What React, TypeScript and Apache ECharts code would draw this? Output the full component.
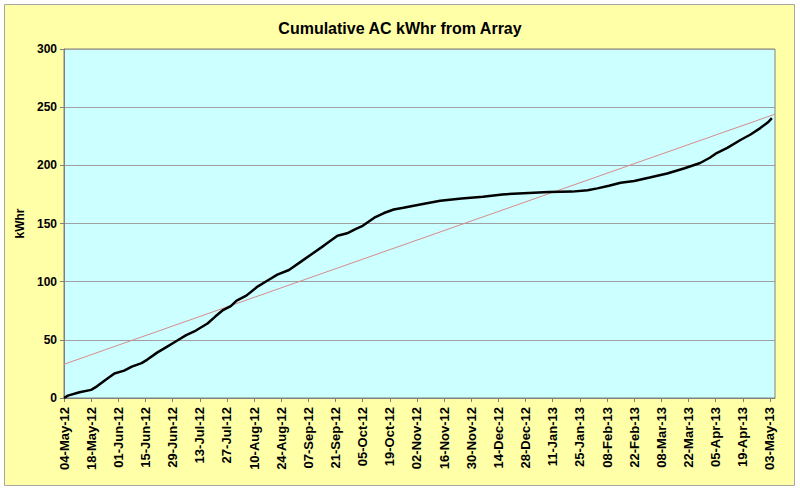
import { useEffect, useRef } from "react";
import * as echarts from "echarts";

// days since 04-May-12
const days = [
  0, 2, 8, 14, 17, 21, 26, 31, 35, 40, 43, 48, 53, 58, 63, 68, 74, 78, 82, 86,
  89, 94, 100, 105, 110, 116, 122, 128, 134, 141, 146, 150, 154, 160, 165, 170,
  175, 185, 194, 205, 216, 226, 237, 250, 262, 270, 275, 281, 287, 294, 302,
  311, 320, 328, 333, 336, 342, 349, 354, 359, 363, 365,
];
const cumulativeKwh = [
  0, 2, 5, 7, 10, 15, 21, 23.5, 27, 30, 33, 39, 44, 49, 54, 58, 64, 70, 75.6,
  79, 83.7, 88, 96, 101, 106, 110, 117, 124, 131, 139.5, 141.6, 145, 148, 155,
  159, 162, 163.5, 166.8, 169.5, 171.5, 173, 175, 176, 177, 177.4, 178.5, 180.2,
  182.5, 185, 186.5, 189.5, 193, 197.5, 202, 206.5, 210, 215, 222, 226.5, 232,
  237, 240.5,
];
const trendDays = [0, 366.6];
const trendKwh = [29, 244];

const tickLabels = [
  "04-May-12", "18-May-12", "01-Jun-12", "15-Jun-12", "29-Jun-12", "13-Jul-12",
  "27-Jul-12", "10-Aug-12", "24-Aug-12", "07-Sep-12", "21-Sep-12", "05-Oct-12",
  "19-Oct-12", "02-Nov-12", "16-Nov-12", "30-Nov-12", "14-Dec-12", "28-Dec-12",
  "11-Jan-13", "25-Jan-13", "08-Feb-13", "22-Feb-13", "08-Mar-13", "22-Mar-13",
  "05-Apr-13", "19-Apr-13", "03-May-13",
];

const FONT = "'Liberation Sans', Arial, sans-serif";

export default function App() {
  const chartRef = useRef<HTMLDivElement | null>(null);

  useEffect(() => {
    document.body.style.margin = "0";
    if (!chartRef.current) {
      return;
    }

    const chart = echarts.init(chartRef.current, null, { renderer: "svg" });
    chart.setOption({
      animation: false,
      backgroundColor: "#ffffff",
      textStyle: { fontFamily: FONT },
      graphic: [
        {
          type: "rect",
          z: -10,
          silent: true,
          shape: { x: 4.5, y: 4.5, width: 790, height: 481 },
          style: { fill: "#ffffa8", stroke: "#a8a8a0", lineWidth: 1 },
        },
      ],
      title: {
        text: "Cumulative AC kWhr from Array",
        left: "center",
        top: 15,
        textStyle: {
          color: "#000",
          fontSize: 16,
          fontWeight: "bold",
          fontFamily: FONT,
        },
      },
      grid: {
        left: 64,
        top: 49,
        width: 711,
        height: 349,
        show: true,
        backgroundColor: "#ccffff",
        borderColor: "#808080",
        borderWidth: 1,
      },
      xAxis: {
        type: "value",
        min: 0,
        max: 366.6,
        interval: 14,
        axisLine: { lineStyle: { color: "#808080" } },
        axisTick: { show: true, length: 4, lineStyle: { color: "#808080" } },
        splitLine: { show: false },
        axisLabel: {
          rotate: 90,
          margin: 9,
          color: "#000",
          fontSize: 13,
          fontWeight: "bold",
          fontFamily: FONT,
          showMaxLabel: false,
          formatter: (v: number) => tickLabels[Math.round(v / 14)] ?? "",
        },
      },
      yAxis: {
        type: "value",
        min: 0,
        max: 300,
        interval: 50,
        name: "kWhr",
        nameLocation: "middle",
        nameGap: 34,
        nameTextStyle: {
          color: "#000",
          fontSize: 12,
          fontWeight: "bold",
          fontFamily: FONT,
        },
        axisLine: { show: true, lineStyle: { color: "#808080" } },
        axisTick: { show: true, length: 4, lineStyle: { color: "#808080" } },
        splitLine: { lineStyle: { color: "#a0a0a0", width: 1 } },
        axisLabel: {
          margin: 7,
          color: "#000",
          fontSize: 12,
          fontWeight: "bold",
          fontFamily: FONT,
        },
      },
      series: [
        {
          name: "Cumulative",
          type: "line",
          showSymbol: false,
          smooth: false,
          lineStyle: { color: "#000", width: 2.5 },
          data: days.map((d, i) => [d, cumulativeKwh[i]]),
          z: 3,
        },
        {
          name: "Trend",
          type: "line",
          showSymbol: false,
          lineStyle: { color: "#d88a8a", width: 1 },
          data: trendDays.map((d, i) => [d, trendKwh[i]]),
          z: 2,
        },
      ],
    });

    return () => {
      chart.dispose();
    };
  }, []);

  return <div ref={chartRef} style={{ width: 800, height: 491 }} />;
}
